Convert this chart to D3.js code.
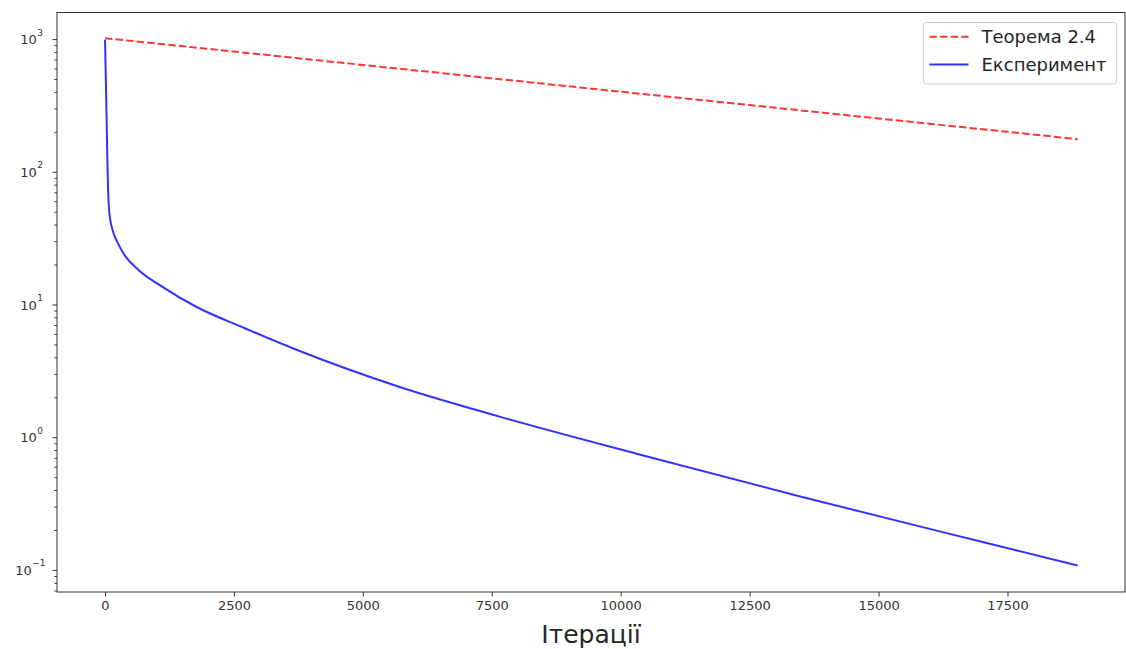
<!DOCTYPE html>
<html>
<head>
<meta charset="utf-8">
<script src="https://cdn.jsdelivr.net/npm/d3@7"></script>
<style>
  body { margin: 0; background: #fff; }
  svg { font-family: "DejaVu Sans", sans-serif; }
  .axis text { fill: #333; font-size: 13px; font-family: "DejaVu Sans", sans-serif; }
  .axis path, .axis line { stroke: #333; }
</style>
</head>
<body>
<svg width="1126" height="649"></svg>
<script>
// values
const theoryIter = [0, 2500, 5000, 7500, 10000, 12500, 15000, 17500, 18860]
const theoryVal  = [1015, 805, 638, 506, 401, 318, 252, 200, 176]

const expIter = [0, 15, 30, 45, 60, 75, 100, 150, 250, 350, 650, 1100, 1750, 2700, 3800, 5700, 7650, 10400, 13500, 17000, 18860]
const expVal  = [990, 520, 260, 130, 72, 54, 44, 36, 29, 24.5, 18.2, 13.7, 9.7, 6.65, 4.42, 2.4, 1.43, 0.735, 0.356, 0.163, 0.108]

const xTicks = [0, 2500, 5000, 7500, 10000, 12500, 15000, 17500]
const yTicks = [0.1, 1, 10, 100, 1000]
const yExp = ['\u22121', '0', '1', '2', '3']

const seriesNames = ['Теорема 2.4', 'Експеримент']
const xLabel = 'Ітерації'

let svg = d3.select('svg')
let plotL = 57, plotT = 12.5, plotR = 1125, plotB = 592

let x = d3.scaleLinear().domain([-931, 19779]).range([plotL, plotR])
let y = d3.scaleLog().domain([0.0682, 1585]).range([plotB, plotT])

// minor ticks on the log axis
let minor = []
for (let p = -2; p <= 3; p++) {
  for (let m = 2; m <= 9; m++) {
    let v = m * Math.pow(10, p)
    if (v >= y.domain()[0] && v <= y.domain()[1]) minor.push(v)
  }
}

svg.append('g')
  .attr('class', 'axis')
  .attr('transform', `translate(${plotL},0)`)
  .call(d3.axisLeft(y).tickValues(minor).tickSize(2.6).tickFormat(''))
  .select('.domain').remove()

let yAxis = svg.append('g')
  .attr('class', 'axis')
  .attr('transform', `translate(${plotL},0)`)
  .call(d3.axisLeft(y).tickValues(yTicks).tickSize(4.5).tickFormat(''))
yAxis.select('.domain').remove()
yAxis.selectAll('.tick').each(function(d, i) {
  let baseEnd = i === 0 ? -25.3 : -20.3   // the "−1" exponent is wider
  let g = d3.select(this)
  g.append('text')
    .attr('x', baseEnd)
    .attr('dy', '0.35em')
    .attr('text-anchor', 'end')
    .text('10')
  g.append('text')
    .attr('x', baseEnd + 0.6)
    .attr('y', -4)
    .attr('text-anchor', 'start')
    .style('font-size', '9px')
    .text(yExp[i])
})

let xAxis = svg.append('g')
  .attr('class', 'axis')
  .attr('transform', `translate(0,${plotB})`)
  .call(d3.axisBottom(x).tickValues(xTicks).tickSize(4.5).tickPadding(4).tickFormat(d3.format('d')))
xAxis.select('.domain').remove()

// frame
svg.append('rect')
  .attr('x', plotL).attr('y', plotT)
  .attr('width', plotR - plotL).attr('height', plotB - plotT)
  .attr('fill', 'none').attr('stroke', '#333').attr('stroke-width', 1)

let line = d3.line()
  .x(d => x(d[0]))
  .y(d => y(d[1]))
  .curve(d3.curveMonotoneX)

let theory = theoryIter.map((d, i) => [d, theoryVal[i]])
let exp = expIter.map((d, i) => [d, expVal[i]])

svg.append('path')
  .attr('d', line(theory))
  .attr('fill', 'none')
  .attr('stroke', 'rgba(255,0,0,0.8)')
  .attr('stroke-width', 2)
  .attr('stroke-dasharray', '7.4,3.2')

svg.append('path')
  .attr('d', line(exp))
  .attr('fill', 'none')
  .attr('stroke', 'rgba(0,0,255,0.8)')
  .attr('stroke-width', 2)

// legend
let legend = svg.append('g')
legend.append('rect')
  .attr('x', 923.5).attr('y', 22.5)
  .attr('width', 193).attr('height', 61.5)
  .attr('rx', 3)
  .attr('fill', 'rgba(255,255,255,0.8)')
  .attr('stroke', '#ccc')
  .attr('stroke-width', 1)

let styles = [
  {color: 'rgba(255,0,0,0.8)', dash: '7.4,3.2'},
  {color: 'rgba(0,0,255,0.8)', dash: null}
]
seriesNames.forEach((name, i) => {
  let cy = 36.7 + i * 27.8
  legend.append('line')
    .attr('x1', 929.5).attr('x2', 968.5)
    .attr('y1', cy).attr('y2', cy)
    .attr('stroke', styles[i].color)
    .attr('stroke-width', 2)
    .attr('stroke-dasharray', styles[i].dash)
  legend.append('text')
    .attr('x', 981.5)
    .attr('y', cy + 6.6)
    .style('font-size', '18px')
    .attr('fill', '#262626')
    .text(name)
})

svg.append('text')
  .attr('x', (plotL + plotR) / 2)
  .attr('y', 643)
  .attr('text-anchor', 'middle')
  .style('font-size', '25px')
  .attr('fill', '#262626')
  .text(xLabel)
</script>
</body>
</html>
